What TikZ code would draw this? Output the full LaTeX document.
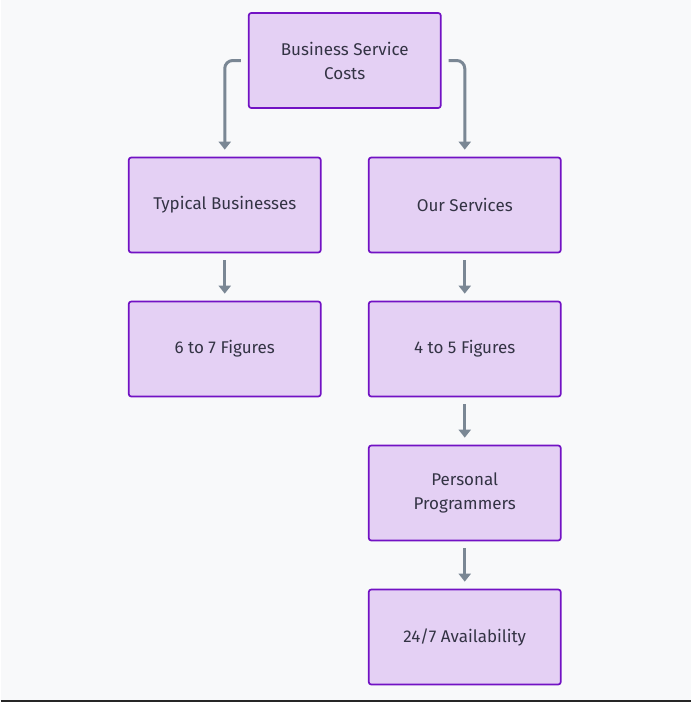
\documentclass[tikz,border=0pt]{standalone}
\usepackage{fontspec}
\setmainfont{Fira Sans}
\usepackage{xcolor}
\usetikzlibrary{arrows.meta}

\definecolor{bgGray}{HTML}{F8F9FA}
\definecolor{boxFill}{HTML}{E4D0F4}
\definecolor{boxLine}{HTML}{7212C4}
\definecolor{arrowGray}{HTML}{7A8794}
\definecolor{textDark}{HTML}{333344}

\tikzset{
    costbox/.style={draw=boxLine, fill=boxFill, line width=1.7pt, rounded corners=2.5pt,
        minimum width=192pt, minimum height=95pt, align=center, text=textDark,
        font=\fontsize{17}{24}\selectfont},
    flow/.style={draw=arrowGray, line width=3pt, rounded corners=8pt,
        -{Triangle[width=12pt,length=8pt]}, shorten <=7pt, shorten >=7pt}
}

\begin{document}
\begin{tikzpicture}[x=1pt, y=-1pt]
        \fill[bgGray] (0,0) rectangle (690,702);
        \draw[line width=1.5pt, black!85] (0,701.2) -- (690,701.2);

        \node[costbox] (costs) at (344,60.5) {Business Service\\Costs};
        \node[costbox] (typical) at (224,205) {Typical Businesses};
        \node[costbox] (ours) at (464,205) {Our Services};
        \node[costbox] (sixseven) at (224,349) {6 to 7 Figures};
        \node[costbox] (fourfive) at (464,349) {4 to 5 Figures};
        \node[costbox] (programmers) at (464,493) {Personal\\Programmers};
        \node[costbox] (available) at (464,637) {24/7 Availability};

        \draw[flow] (costs.west) -- (typical.north |- costs.west) -- (typical.north);
        \draw[flow] (costs.east) -- (ours.north |- costs.east) -- (ours.north);
        \draw[flow] (typical) -- (sixseven);
        \draw[flow] (ours) -- (fourfive);
        \draw[flow] (fourfive) -- (programmers);
        \draw[flow] (programmers) -- (available);
    \end{tikzpicture}
\end{document}
